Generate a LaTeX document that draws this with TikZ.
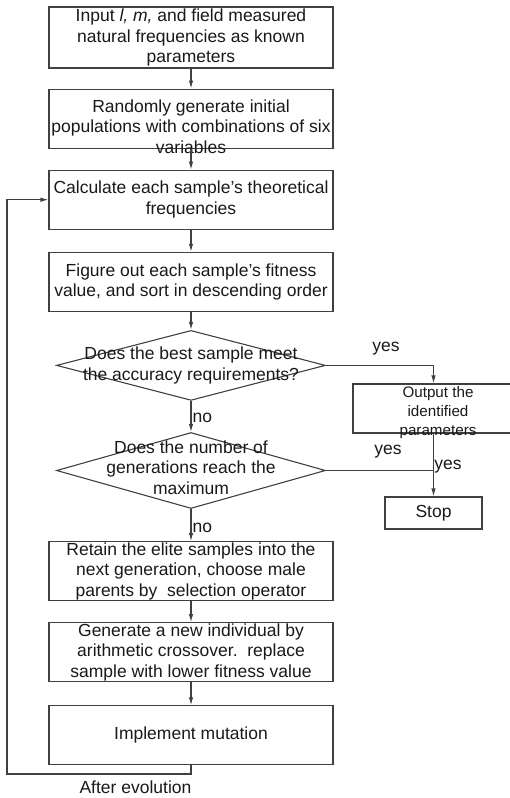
\documentclass[tikz,border=0pt]{standalone}
\usepackage{fontspec}
\setmainfont{Liberation Sans}
\usetikzlibrary{shapes.geometric, arrows.meta, positioning}

\newcommand{\ztext}[2][-8pt]{\smash{\makebox[0pt]{\raisebox{#1}{\begin{tabular}{@{}c@{}}#2\end{tabular}}}}}

\begin{document}
\begin{tikzpicture}[x=1pt, y=-1pt,
        >={Latex[length=8pt,width=4.5pt]},
        every edge/.style={->,draw=black!75,line width=1.1pt},
        flowline/.style={draw=black!75,line width=1.1pt},
        stepbox/.style={rectangle,draw=black!75,line width=1.1pt,text=black!90,
            minimum width=284pt,minimum height=59pt,inner sep=0pt,align=center,
            font=\fontsize{17.5}{20.5}\selectfont},
        decision/.style={diamond,draw=black!75,line width=1.1pt,text=black!90,
            minimum width=269pt,inner sep=0pt,font=\fontsize{17.5}{20.5}\selectfont},
        lbl/.style={text=black!90,inner sep=1pt,font=\fontsize{17.5}{20.5}\selectfont},]

        \useasboundingbox (0,0) rectangle (509,798);

        \node[stepbox, minimum height=61pt] (b1) at (191,37.5) {Input \textit{l,} \textit{m,} and field measured\\natural frequencies as known\\parameters};
        \node[stepbox] (b2) [below=20pt of b1] {\ztext[-14.5pt]{Randomly generate initial\\populations with combinations of six\\variables}};
        \node[stepbox] (b3) [below=21pt of b2] {Calculate each sample's theoretical\\frequencies};
        \node[stepbox] (b4) [below=22pt of b3] {Figure out each sample's fitness\\value, and sort in descending order};
        \node[decision, minimum height=70pt] (d1) [below=18pt of b4] {\ztext[-5pt]{Does the best sample meet\\the accuracy requirements?}};
        \node[decision, minimum height=76pt] (d2) [below=31pt of d1] {\ztext[-3.5pt]{Does the number of\\generations reach the\\maximum}};
        \node[stepbox] (b5) [below=32pt of d2] {Retain the elite samples into the\\next generation, choose male\\parents by\ \ selection operator};
        \node[stepbox] (b6) [below=21pt of b5] {Generate a new individual by\\arithmetic crossover.\ \ replace\\sample with lower fitness value};
        \node[stepbox] (b7) [below=23pt of b6] {Implement mutation};

        \node[stepbox, minimum width=170pt, minimum height=49pt,
            font=\fontsize{15.2}{19}\selectfont] (out) at (438,408.5) {\ztext[-7.5pt]{Output the\\identified\\parameters}};
        \node[stepbox, minimum width=97pt, minimum height=32pt] (stop) at (433.5,513) {Stop};

        \coordinate (lp) at (7,774);

        \path (b1) edge (b2);
        \path (b2) edge (b3);
        \path (b3) edge (b4);
        \path (b4) edge (d1);
        \path (d1) edge node[lbl, right, pos=0.55] {no} (d2);
        \path (d2) edge node[lbl, right, pos=0.6] {no} (b5);
        \path (b5) edge (b6);
        \path (b6) edge (b7);

        \draw[flowline, ->] (d1.east) -| (stop.north |- out.north);
        \draw[flowline] (d2.east) -- (d2.east -| stop.north);
        \draw[flowline, ->] (stop.north |- out.south) -- (stop.north);
        \draw[flowline, ->] (b7.south) |- (lp) |- (b3.west);

        \node[lbl] (yes1) at (386,349) {yes};
        \node[lbl] (yes2) at (388,452) {yes};
        \node[lbl] (yes3) at (448,467) {yes};
        \node[lbl] (evo) at (135.5,787) {After evolution};

    \end{tikzpicture}
\end{document}
